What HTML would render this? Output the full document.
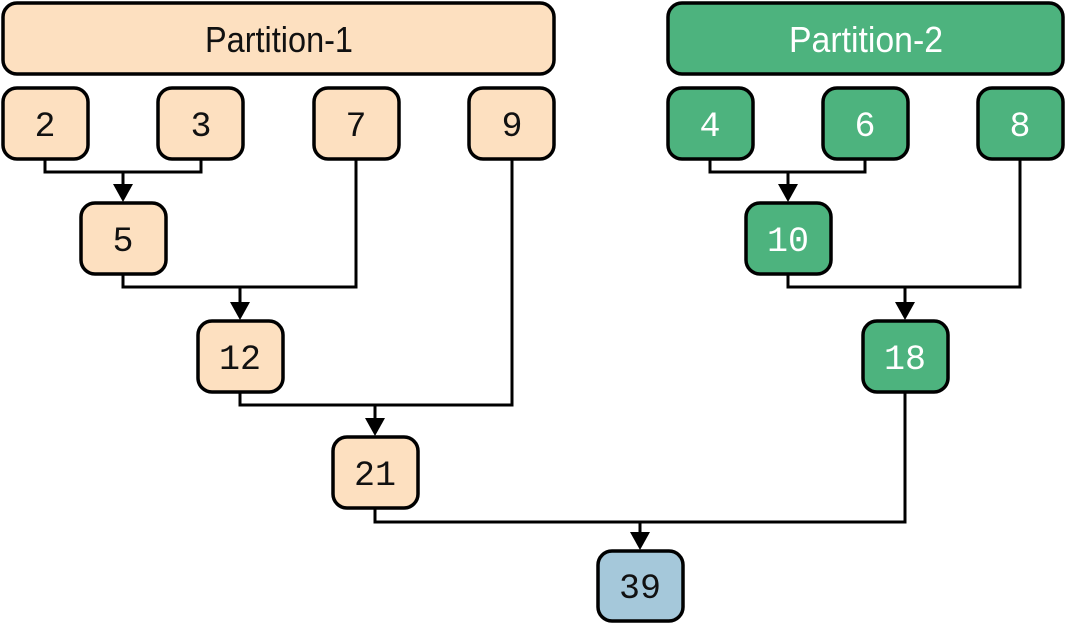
<!DOCTYPE html>
<html><head><style>
body{margin:0;background:#fff;width:1066px;height:626px;overflow:hidden}
</style></head><body>
<svg width="1066" height="626" viewBox="0 0 1066 626" xmlns="http://www.w3.org/2000/svg">
<g fill="none" stroke="#000" stroke-width="3">
<path d="M45,159V172H201V159M123,172V190"/>
<path d="M123,274V287H356V159M240,287V308"/>
<path d="M240,392V405H512V159M375,405V424"/>
<path d="M375,508V522H905V392M640,522V538"/>
<path d="M710,159V172H865V159M788,172V190"/>
<path d="M788,274V287H1020V159M905,287V308"/>
</g>
<g fill="#000">
<path d="M113,184H133L123,202Z"/>
<path d="M230,302H250L240,320Z"/>
<path d="M365,418H385L375,436Z"/>
<path d="M630,532H650L640,550Z"/>
<path d="M778,184H798L788,202Z"/>
<path d="M895,302H915L905,320Z"/>
</g>
<g stroke="#000" stroke-width="3.5">
<rect x="3" y="3" width="551" height="71" rx="14" fill="#fde0c0"/>
<rect x="668" y="3" width="395" height="71" rx="14" fill="#4db37e"/>
<g fill="#fde0c0">
<rect x="3" y="88" width="85" height="71" rx="14"/>
<rect x="158" y="88" width="85" height="71" rx="14"/>
<rect x="314" y="88" width="85" height="71" rx="14"/>
<rect x="469" y="88" width="85" height="71" rx="14"/>
<rect x="81" y="203" width="85" height="71" rx="14"/>
<rect x="198" y="321" width="85" height="71" rx="14"/>
<rect x="333" y="437" width="85" height="71" rx="14"/>
</g>
<g fill="#4db37e">
<rect x="668" y="88" width="85" height="71" rx="14"/>
<rect x="823" y="88" width="85" height="71" rx="14"/>
<rect x="978" y="88" width="85" height="71" rx="14"/>
<rect x="746" y="203" width="85" height="71" rx="14"/>
<rect x="863" y="321" width="85" height="71" rx="14"/>
</g>
<rect x="598" y="551" width="85" height="70" rx="14" fill="#a5c8da"/>
</g>
<g font-family="Liberation Sans, sans-serif" font-size="36" text-anchor="middle">
<text x="279" y="52" fill="#111" textLength="148" lengthAdjust="spacingAndGlyphs">Partition-1</text>
<text x="866" y="52" fill="#fff" textLength="154" lengthAdjust="spacingAndGlyphs">Partition-2</text>
</g>
<g font-family="Liberation Mono, monospace" font-size="35" text-anchor="middle">
<g fill="#111">
<text x="45" y="136">2</text><text x="201" y="136">3</text><text x="356" y="136">7</text><text x="512" y="136">9</text>
<text x="123" y="251">5</text><text x="240" y="369">12</text><text x="375" y="485">21</text><text x="640" y="598">39</text>
</g>
<g fill="#fff">
<text x="710" y="136">4</text><text x="865" y="136">6</text><text x="1020" y="136">8</text>
<text x="788" y="251">10</text><text x="905" y="369">18</text>
</g>
</g>
</svg>
</body></html>
